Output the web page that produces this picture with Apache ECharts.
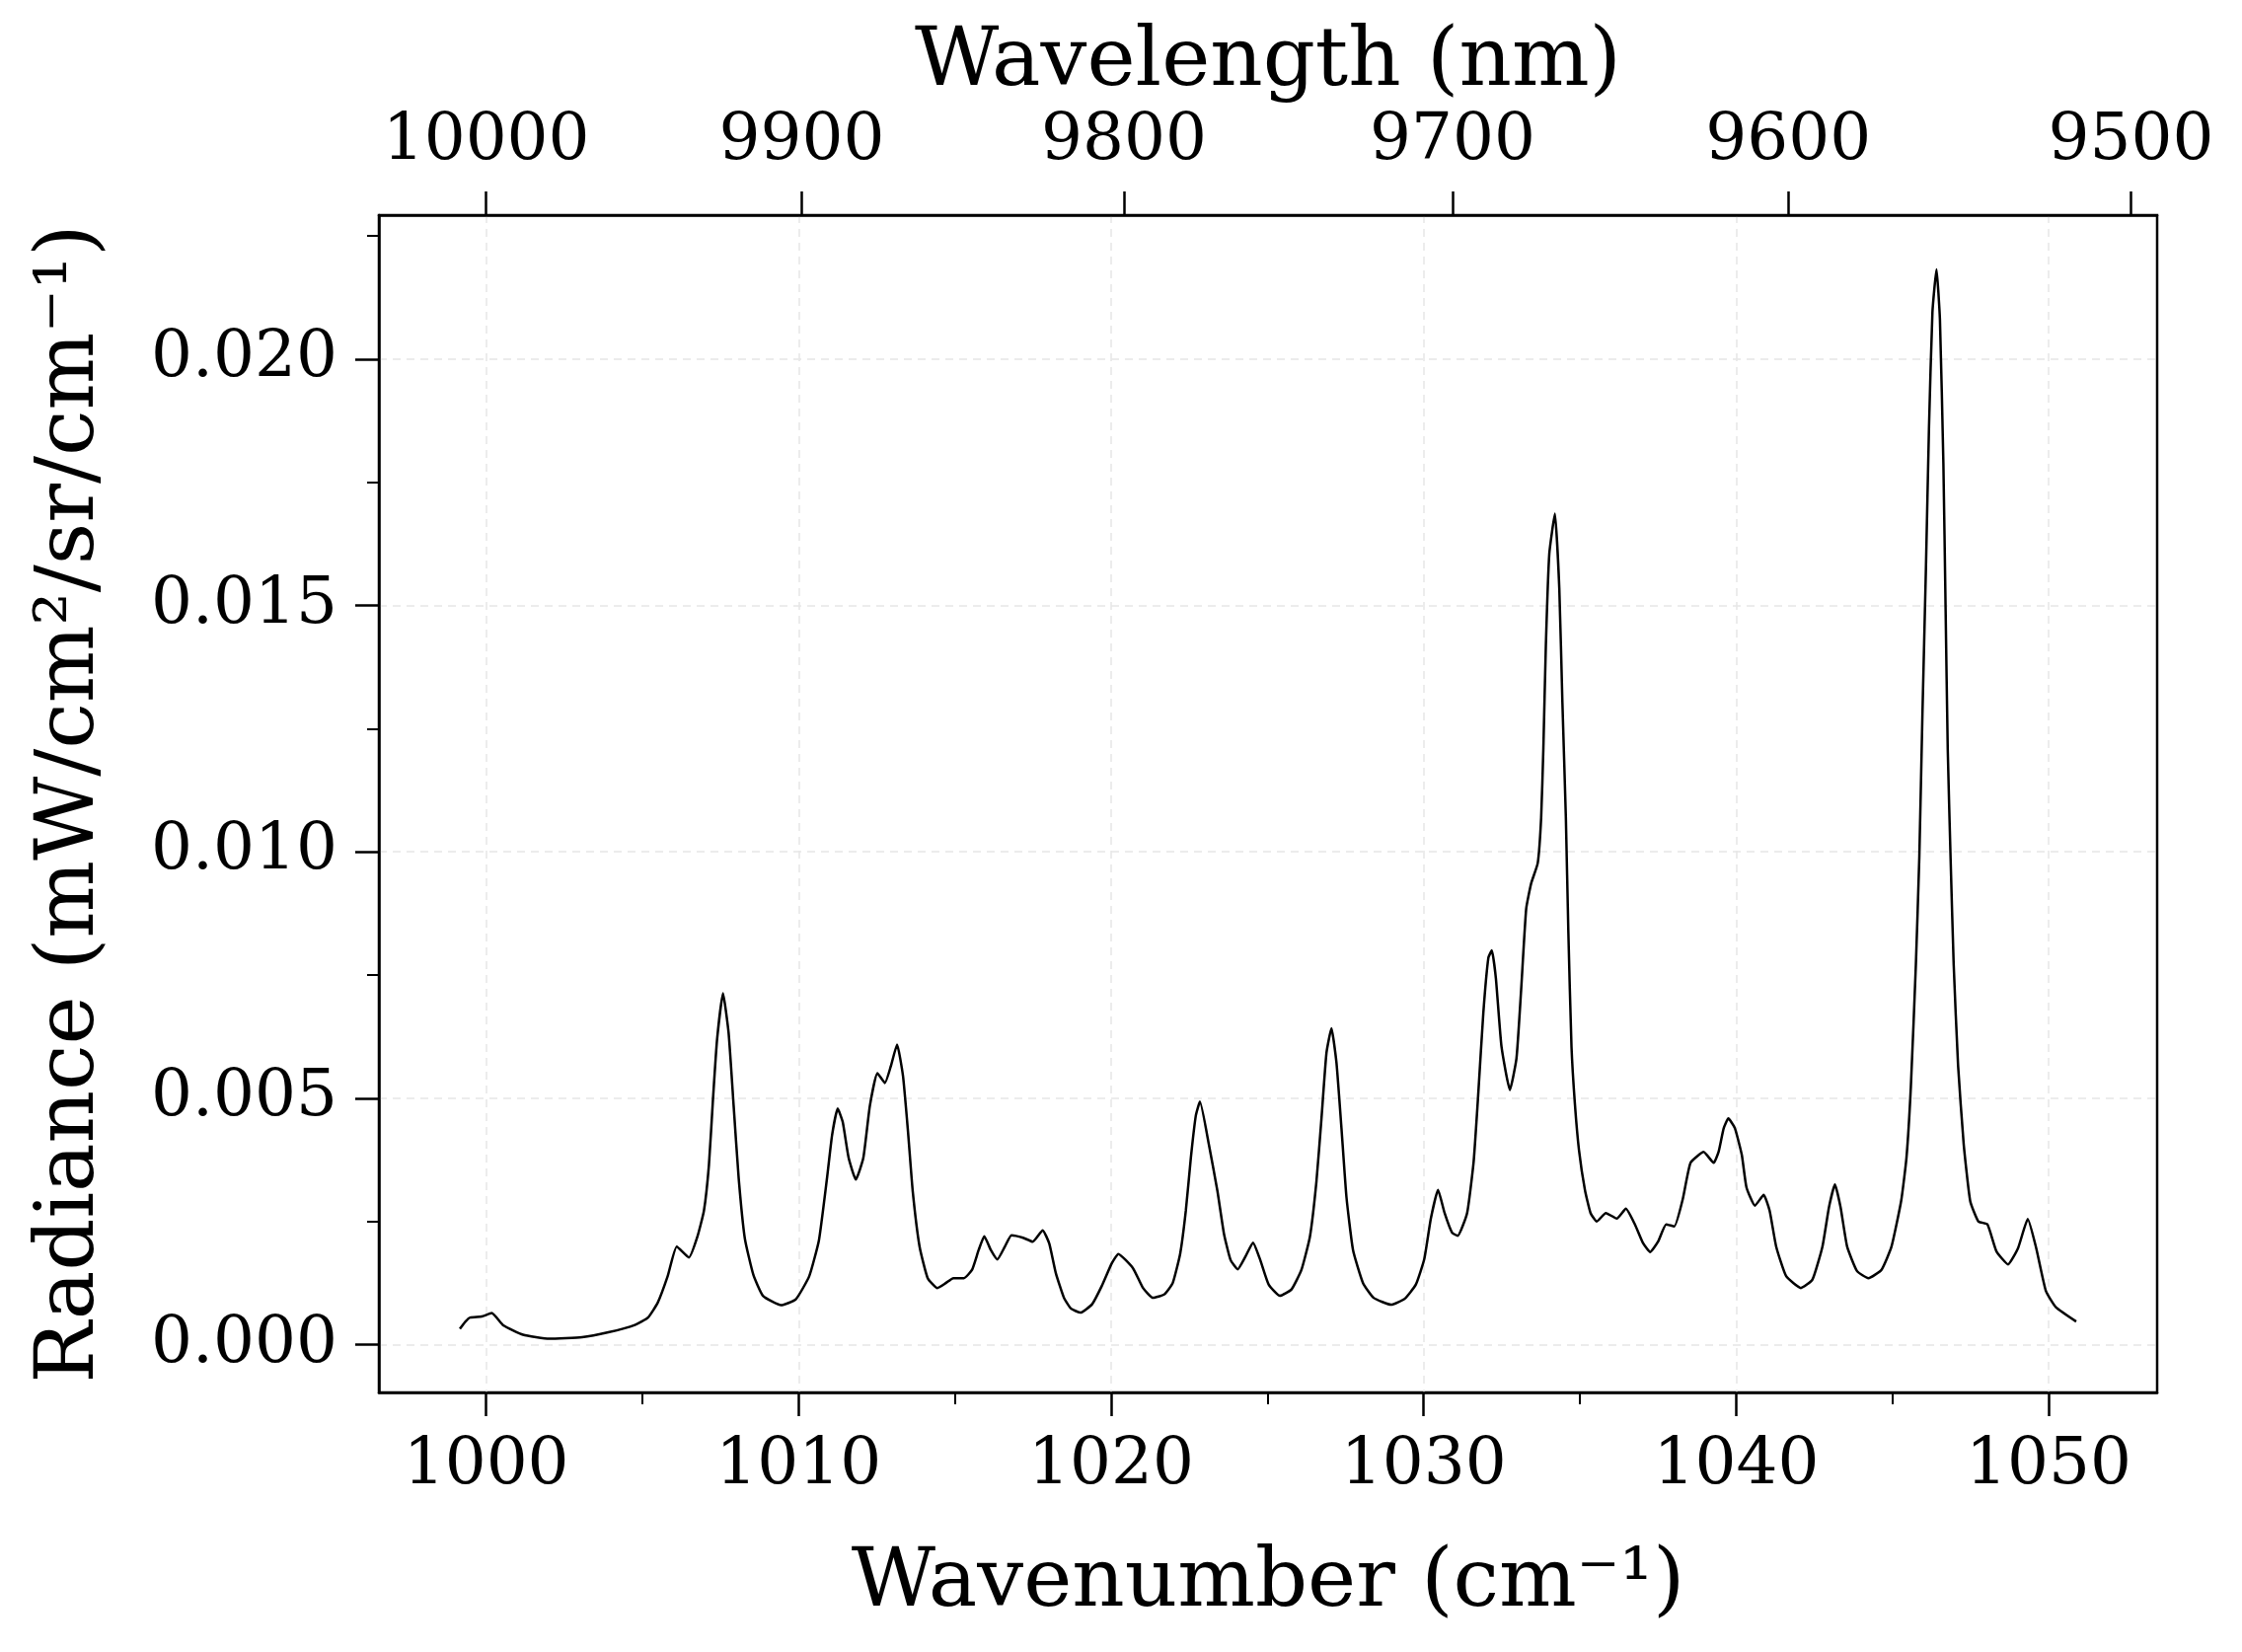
<!DOCTYPE html>
<html>
<head>
<meta charset="utf-8">
<script src="https://cdn.jsdelivr.net/npm/echarts@6/dist/echarts.min.js"></script>
<style>
  html, body { margin: 0; padding: 0; background: #fff; }
  #main { width: 2272px; height: 1674px; }
</style>
</head>
<body>
<div id="main"></div>
<script>
// wavenumber (cm-1)
var wavenumber = [
  999.16, 999.34, 999.49, 999.86, 1000.18, 1000.55, 1001.18, 1002.02, 1003.07, 1003.91,
  1004.76, 1005.18, 1005.49, 1005.81, 1006.10, 1006.49, 1006.76, 1006.97, 1007.13, 1007.26,
  1007.39, 1007.58, 1007.76, 1007.92, 1008.08, 1008.28, 1008.55, 1008.86, 1009.44, 1009.91,
  1010.34, 1010.65, 1010.91, 1011.07, 1011.25, 1011.41, 1011.60, 1011.83, 1012.07, 1012.28,
  1012.52, 1012.76, 1012.95, 1013.15, 1013.34, 1013.50, 1013.65, 1013.87, 1014.13, 1014.44,
  1014.71, 1014.95, 1015.29, 1015.55, 1015.76, 1015.94, 1016.15, 1016.36, 1016.60, 1016.81,
  1017.18, 1017.49, 1017.81, 1018.02, 1018.23, 1018.49, 1018.72, 1019.02, 1019.39, 1019.70,
  1020.02, 1020.23, 1020.70, 1021.02, 1021.34, 1021.70, 1021.97, 1022.21, 1022.39, 1022.55,
  1022.71, 1022.84, 1023.13, 1023.40, 1023.61, 1023.82, 1024.05, 1024.30, 1024.54, 1024.77,
  1025.04, 1025.40, 1025.77, 1026.09, 1026.36, 1026.57, 1026.73, 1026.89, 1027.05, 1027.21,
  1027.37, 1027.53, 1027.74, 1028.06, 1028.40, 1028.96, 1029.39, 1029.75, 1030.02, 1030.23,
  1030.46, 1030.67, 1030.91, 1031.09, 1031.39, 1031.60, 1031.75, 1031.91, 1032.07, 1032.18,
  1032.31, 1032.49, 1032.76, 1032.97, 1033.12, 1033.28, 1033.44, 1033.65, 1033.76, 1033.83,
  1033.91, 1034.02, 1034.20, 1034.34, 1034.44, 1034.55, 1034.63, 1034.73, 1034.84, 1034.97,
  1035.16, 1035.34, 1035.54, 1035.83, 1036.18, 1036.47, 1036.76, 1037.02, 1037.25, 1037.50,
  1037.76, 1038.02, 1038.29, 1038.54, 1038.96, 1039.28, 1039.44, 1039.60, 1039.75, 1039.96,
  1040.18, 1040.33, 1040.60, 1040.88, 1041.07, 1041.28, 1041.60, 1042.07, 1042.44, 1042.76,
  1042.97, 1043.16, 1043.34, 1043.55, 1043.87, 1044.23, 1044.65, 1044.97, 1045.28, 1045.45,
  1045.59, 1045.75, 1045.86, 1045.96, 1046.07, 1046.17, 1046.28, 1046.41, 1046.52, 1046.63,
  1046.70, 1046.77, 1046.86, 1046.96, 1047.10, 1047.28, 1047.49, 1047.75, 1048.04, 1048.33,
  1048.70, 1049.02, 1049.33, 1049.60, 1049.91, 1050.23, 1050.88
];
// radiance (mW/cm2/sr/cm-1)
var radiance = [
  0.00032, 0.00047, 0.00055, 0.00057, 0.00064, 0.00039, 0.00020, 0.00012, 0.00015, 0.00025,
  0.00040, 0.00055, 0.00085, 0.00139, 0.00199, 0.00177, 0.00219, 0.00272, 0.00365, 0.00499,
  0.00619, 0.00713, 0.00632, 0.00485, 0.00339, 0.00215, 0.00142, 0.00099, 0.00080, 0.00092,
  0.00139, 0.00212, 0.00339, 0.00425, 0.00479, 0.00452, 0.00379, 0.00335, 0.00379, 0.00485,
  0.00551, 0.00531, 0.00565, 0.00609, 0.00545, 0.00432, 0.00312, 0.00199, 0.00135, 0.00115,
  0.00125, 0.00135, 0.00135, 0.00152, 0.00192, 0.00220, 0.00192, 0.00173, 0.00199, 0.00222,
  0.00217, 0.00209, 0.00232, 0.00205, 0.00145, 0.00095, 0.00073, 0.00065, 0.00082, 0.00119,
  0.00165, 0.00184, 0.00155, 0.00115, 0.00095, 0.00102, 0.00125, 0.00185, 0.00272, 0.00379,
  0.00465, 0.00493, 0.00405, 0.00312, 0.00225, 0.00172, 0.00153, 0.00179, 0.00207, 0.00172,
  0.00122, 0.00099, 0.00112, 0.00152, 0.00219, 0.00332, 0.00459, 0.00592, 0.00642, 0.00572,
  0.00439, 0.00299, 0.00192, 0.00125, 0.00095, 0.00081, 0.00093, 0.00122, 0.00174, 0.00256,
  0.00314, 0.00267, 0.00227, 0.00221, 0.00267, 0.00372, 0.00512, 0.00674, 0.00785, 0.00800,
  0.00744, 0.00605, 0.00517, 0.00581, 0.00721, 0.00884, 0.00936, 0.00977, 0.01070, 0.01209,
  0.01419, 0.01605, 0.01686, 0.01535, 0.01302, 0.01070, 0.00837, 0.00605, 0.00488, 0.00395,
  0.00314, 0.00267, 0.00250, 0.00267, 0.00256, 0.00276, 0.00244, 0.00206, 0.00188, 0.00209,
  0.00244, 0.00240, 0.00295, 0.00369, 0.00391, 0.00369, 0.00392, 0.00439, 0.00459, 0.00439,
  0.00385, 0.00319, 0.00282, 0.00304, 0.00272, 0.00199, 0.00139, 0.00115, 0.00132, 0.00199,
  0.00279, 0.00325, 0.00279, 0.00199, 0.00149, 0.00135, 0.00152, 0.00199, 0.00292, 0.00380,
  0.00524, 0.00771, 0.00989, 0.01280, 0.01571, 0.01862, 0.02095, 0.02182, 0.02080, 0.01789,
  0.01498, 0.01207, 0.00989, 0.00771, 0.00567, 0.00407, 0.00291, 0.00250, 0.00244, 0.00189,
  0.00163, 0.00196, 0.00255, 0.00196, 0.00109, 0.00076, 0.00047
];

var wnTicks = [1000, 1010, 1020, 1030, 1040, 1050];
var wnMinorTicks = [1005, 1015, 1025, 1035, 1045];
var nmTicks = [10000, 9900, 9800, 9700, 9600, 9500];
var radTicks = [0, 0.005, 0.010, 0.015, 0.020];
var radMinorTicks = [0.0025, 0.0075, 0.0125, 0.0175, 0.0225];

var myChart = echarts.init(document.getElementById('main'));

var xMin = 996.57, xMax = 1053.47;
var yMin = -0.00097, yMax = 0.02292;
var font = 'DejaVu Serif';

var pts = wavenumber.map(function (w, i) { return [w, radiance[i]]; });
var nmPos = nmTicks.map(function (n) { return 1e7 / n; });

var option = {
  backgroundColor: '#fff',
  animation: false,
  grid: {
    left: 384, top: 218, width: 1802, height: 1193,
    show: true, borderColor: '#000', borderWidth: 2.5, backgroundColor: 'transparent'
  },
  xAxis: [
    {
      type: 'value', position: 'bottom', min: xMin, max: xMax,
      name: 'Wavenumber (cm⁻¹)', nameLocation: 'middle', nameGap: 153,
      nameTextStyle: { fontFamily: font, fontSize: 83, color: '#000' },
      axisLine: { show: true, onZero: false, lineStyle: { color: '#000', width: 2.5 } },
      axisTick: { show: true, length: 24, customValues: wnTicks, lineStyle: { color: '#000', width: 2.5 } },
      axisLabel: {
        show: true, customValues: wnTicks, margin: 42,
        fontFamily: font, fontSize: 66, color: '#000',
        formatter: function (v) { return String(Math.round(v)); }
      },
      splitLine: { show: true, lineStyle: { color: '#e6e6e6', width: 1.5, type: [8, 6] } }
    },
    {
      // minor ticks only
      type: 'value', position: 'bottom', min: xMin, max: xMax,
      axisLine: { show: false, onZero: false },
      axisTick: { show: true, length: 12, customValues: wnMinorTicks, lineStyle: { color: '#000', width: 2 } },
      axisLabel: { show: false },
      splitLine: { show: false }
    },
    {
      type: 'value', position: 'top', min: xMin, max: xMax,
      name: 'Wavelength (nm)', nameLocation: 'middle', nameGap: 94,
      nameTextStyle: { fontFamily: font, fontSize: 83, color: '#000' },
      axisLine: { show: true, onZero: false, lineStyle: { color: '#000', width: 2.5 } },
      axisTick: { show: true, length: 24, customValues: nmPos, lineStyle: { color: '#000', width: 2.5 } },
      axisLabel: {
        show: true, customValues: nmPos, margin: 41,
        fontFamily: font, fontSize: 66, color: '#000',
        formatter: function (v) { return String(Math.round(1e7 / v)); }
      },
      splitLine: { show: false }
    }
  ],
  yAxis: [
    {
      type: 'value', position: 'left', min: yMin, max: yMax,
      name: 'Radiance (mW/cm²/sr/cm⁻¹)', nameLocation: 'middle', nameGap: 270, nameRotate: 90,
      nameTextStyle: { fontFamily: font, fontSize: 83, color: '#000' },
      axisLine: { show: true, onZero: false, lineStyle: { color: '#000', width: 2.5 } },
      axisTick: { show: true, length: 24, customValues: radTicks, lineStyle: { color: '#000', width: 2.5 } },
      axisLabel: {
        show: true, customValues: radTicks, margin: 42,
        fontFamily: font, fontSize: 66, color: '#000',
        formatter: function (v) { return v.toFixed(3); }
      },
      splitLine: { show: true, lineStyle: { color: '#e6e6e6', width: 1.5, type: [8, 6] } }
    },
    {
      // minor ticks only
      type: 'value', position: 'left', min: yMin, max: yMax,
      axisLine: { show: false, onZero: false },
      axisTick: { show: true, length: 12, customValues: radMinorTicks, lineStyle: { color: '#000', width: 2 } },
      axisLabel: { show: false },
      splitLine: { show: false }
    }
  ],
  series: [
    {
      type: 'line',
      xAxisIndex: 0,
      yAxisIndex: 0,
      data: pts,
      showSymbol: false,
      smooth: 0.15,
      lineStyle: { color: '#000', width: 2.5 }
    }
  ]
};

myChart.setOption(option);
</script>
</body>
</html>
